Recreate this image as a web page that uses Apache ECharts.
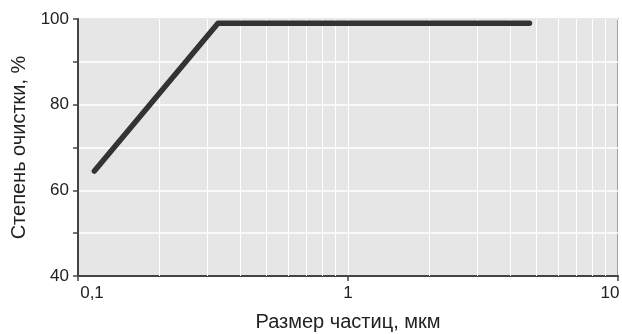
<!DOCTYPE html>
<html>
<head>
<meta charset="utf-8">
<script src="https://cdn.jsdelivr.net/npm/echarts@6/dist/echarts.min.js"></script>
<style>html,body{margin:0;padding:0;background:#fff;}#c{width:622px;height:334px;}</style>
</head>
<body>
<div id="c"></div>
<script>
// Data
var sizeX = [0.115, 0.33, 4.7];         // particle size, мкм
var efficiency = [64.5, 99, 99];        // степень очистки, %
var minorGridX = [0.2,0.3,0.4,0.5,0.6,0.7,0.8,0.9,2,3,4,5,6,7,8,9];
var xTitle = 'Размер частиц, мкм';
var yTitle = 'Степень очистки, %';

var chart = echarts.init(document.getElementById('c'), null, {renderer:'canvas'});
var pts = sizeX.map(function(x,i){return [x, efficiency[i]];});
var font = '"Liberation Sans", Arial, sans-serif';
chart.setOption({
  animation:false,
  grid:{left:78, right:4, top:19, bottom:58, show:true, outerBoundsMode:'none', containLabel:false,
        backgroundColor:'#e6e6e6', borderColor:'#8a8a8a', borderWidth:1.5},
  xAxis:{
    type:'log', logBase:10, min:0.1, max:10,
    name:xTitle, nameLocation:'middle', nameGap:36,
    nameTextStyle:{fontFamily:font, fontSize:20, color:'#222'},
    axisLine:{show:true, onZero:false, lineStyle:{color:'#444', width:2}},
    axisTick:{show:true, length:5, lineStyle:{color:'#444', width:1.5}},
    axisLabel:{fontFamily:font, fontSize:17, color:'#222', margin:9, hideOverlap:false,
      rich:{first:{fontFamily:font, fontSize:17, color:'#222', padding:[0,0,0,28]},
            last:{fontFamily:font, fontSize:17, color:'#222', padding:[0,16,0,0]}},
      formatter:function(v){var l=Math.log10(v); if(Math.abs(l-Math.round(l))>1e-6) return '';
        var s=String(+v.toPrecision(6)).replace('.',',');
        var r=Math.round(l);
        return r===-1 ? '{first|'+s+'}' : (r===1 ? '{last|'+s+'}' : s);}},
    splitLine:{show:true, lineStyle:{color:'#ffffff', width:1}},
    minorTick:{show:false}
  },
  yAxis:{
    type:'value', min:40, max:100, interval:10,
    name:yTitle, nameLocation:'middle', nameGap:45,
    nameTextStyle:{fontFamily:font, fontSize:20, color:'#222'},
    axisLine:{show:true, lineStyle:{color:'#444', width:2}},
    axisTick:{show:true, length:5, lineStyle:{color:'#444', width:1.5}},
    axisLabel:{fontFamily:font, fontSize:17, color:'#222', margin:9,
      formatter:function(v){return v%20===0 ? String(v) : '';}},
    splitLine:{show:true, lineStyle:{color:'#ffffff', width:1.5}}
  },
  series:[
    {type:'line', data:pts, symbol:'none', z:1, silent:true,
     lineStyle:{opacity:0},
     markLine:{silent:true, symbol:['none','none'], label:{show:false},
       lineStyle:{color:'#ffffff', width:1, type:'solid'},
       data:minorGridX.map(function(v){return {xAxis:v};})}},
    {type:'line', data:pts, symbol:'none', z:5,
     lineStyle:{color:'#333333', width:5.5, cap:'round', join:'round'}}
  ]
});
</script>
</body>
</html>
